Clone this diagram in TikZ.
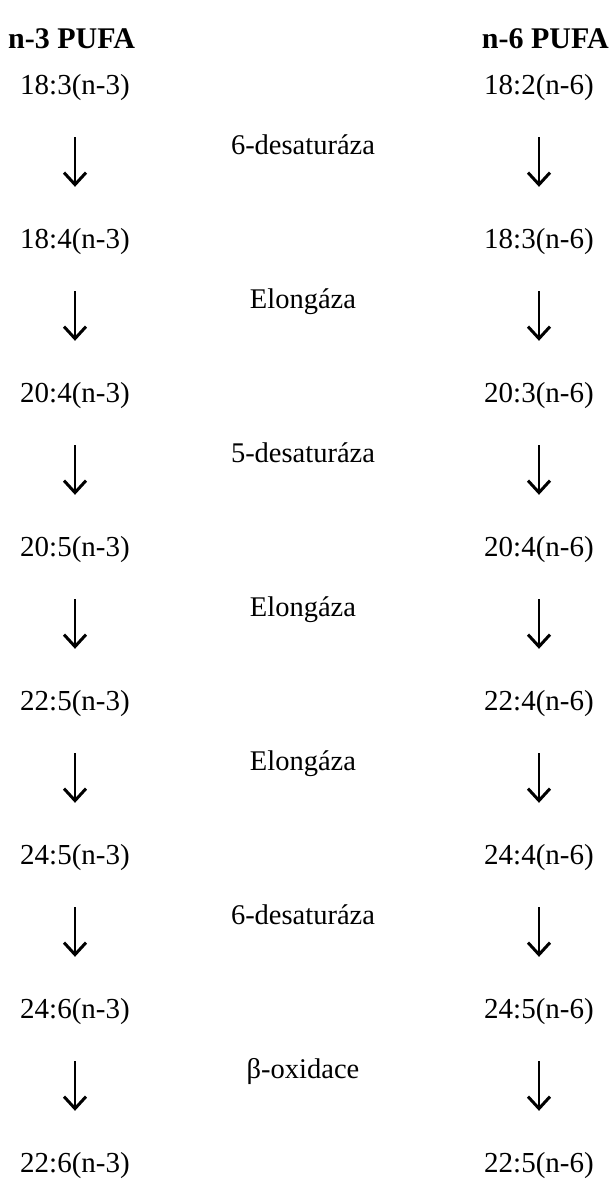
\documentclass[tikz,border=0pt]{standalone}
\usepackage{fontspec}
\setmainfont{Liberation Serif}
\usetikzlibrary{arrows.meta}
\begin{document}
\begin{tikzpicture}[x=1pt,y=-1pt,
  lbl/.style={font=\fontsize{29}{29}\selectfont, inner sep=0pt, anchor=base, text height=20pt, text depth=6pt},
  hdr/.style={font=\fontsize{30}{30}\selectfont\bfseries, inner sep=0pt},
  enz/.style={font=\fontsize{28.5}{28.5}\selectfont, inner sep=0pt, anchor=base},
  flow/.style={line width=2.2pt, shorten <=37pt, shorten >=41pt,
    -{Straight Barb[length=12pt,width=22pt,line width=3pt]}}]
\useasboundingbox (0,0) rectangle (609,1194);
\node[hdr, anchor=base west] (H1) at (8,48) {n-3 PUFA};
\node[hdr, anchor=base east] (H2) at (609,48) {n-6 PUFA};
\foreach \t [count=\i from 0] in {18:3(n-3),18:4(n-3),20:4(n-3),20:5(n-3),22:5(n-3),24:5(n-3),24:6(n-3),22:6(n-3)}
  \node[lbl] (L\i) at (75,{94+154*\i}) {\t};
\foreach \t [count=\i from 0] in {18:2(n-6),18:3(n-6),20:3(n-6),20:4(n-6),22:4(n-6),24:4(n-6),24:5(n-6),22:5(n-6)}
  \node[lbl] (R\i) at (539,{94+154*\i}) {\t};
\foreach \t [count=\i from 0] in {6-desaturáza,Elongáza,5-desaturáza,Elongáza,Elongáza,6-desaturáza,β-oxidace}
  \node[enz] (E\i) at (303,{154+154*\i}) {\t};
\foreach \i [evaluate=\i as \j using {int(\i+1)}] in {0,...,6}{
  \draw[flow] (L\i.south) -- (L\j.north);
  \draw[flow] (R\i.south) -- (R\j.north);
}
\end{tikzpicture}
\end{document}
